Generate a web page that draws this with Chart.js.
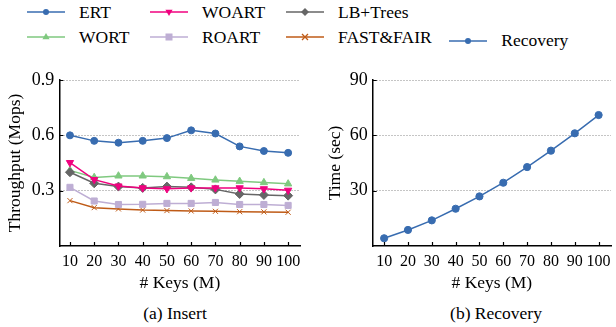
<!DOCTYPE html>
<html lang="en">
<head>
<meta charset="utf-8">
<title>Insert / Recovery</title>
<script src="https://cdn.jsdelivr.net/npm/chart.js@4.4.1/dist/chart.umd.min.js"></script>
<style>
  body { margin: 0; background: #fff; font-family: "Liberation Serif", "Times New Roman", serif; }
  #lienzo { position: relative; width: 616px; height: 327px; overflow: hidden; }
  #lienzo canvas { position: absolute; top: 0; }
  .item { position: absolute; height: 20px; display: flex; align-items: center; font-size: 17.5px; color: #000; white-space: nowrap; }
  .item svg { margin-right: 14px; }
  .pie { position: absolute; top: 303px; height: 20px; line-height: 20px; font-size: 17.5px; transform: translateX(-50%); white-space: nowrap; }
</style>
</head>
<body>
<div id="lienzo">
  <div id="leyenda"></div>
  <canvas id="insertChart" width="306" height="300" style="left:0"></canvas>
  <canvas id="recoveryChart" width="310" height="300" style="left:306px"></canvas>
  <div class="pie" style="left:175px">(a) Insert</div>
  <div class="pie" style="left:496px">(b) Recovery</div>
</div>
<script>
// 📊 Datos
const claves = [10, 20, 30, 40, 50, 60, 70, 80, 90, 100];

const ert = [0.60, 0.57, 0.56, 0.57, 0.585, 0.627, 0.61, 0.54, 0.515, 0.505];
const woart = [0.452, 0.36, 0.325, 0.315, 0.31, 0.315, 0.315, 0.315, 0.31, 0.302];
const lbTrees = [0.40, 0.34, 0.322, 0.315, 0.322, 0.318, 0.307, 0.282, 0.277, 0.273];
const wort = [0.41, 0.372, 0.38, 0.38, 0.376, 0.367, 0.358, 0.351, 0.344, 0.337];
const roart = [0.318, 0.244, 0.225, 0.226, 0.231, 0.231, 0.236, 0.225, 0.225, 0.22];
const fastFair = [0.246, 0.208, 0.201, 0.195, 0.192, 0.19, 0.188, 0.186, 0.185, 0.183];

const recovery = [4.2, 8.7, 13.9, 20.2, 26.9, 34.3, 42.8, 51.7, 61.1, 71.0];

const ticksThroughput = [0.3, 0.6, 0.9];
const ticksTiempo = [30, 60, 90];

const FUENTE = "'Liberation Serif', 'Times New Roman', serif";
Chart.defaults.font.family = FUENTE;
Chart.defaults.color = "#000";

// 🔹 Series del gráfico de inserción (el primero se pinta encima)
const series = [
  { label: "ERT", data: ert, color: "#386cb0", estilo: "circle", radio: 3.5, rot: 0 },
  { label: "WOART", data: woart, color: "#f0027f", estilo: "triangle", radio: 4.2, rot: 180 },
  { label: "LB+Trees", data: lbTrees, color: "#666666", estilo: "rectRot", radio: 4.5, rot: 0 },
  { label: "WORT", data: wort, color: "#7fc97f", estilo: "triangle", radio: 4.2, rot: 0 },
  { label: "ROART", data: roart, color: "#beaed4", estilo: "rect", radio: 4.3, rot: 0 },
  { label: "FAST&FAIR", data: fastFair, color: "#bf5b17", estilo: "crossRot", radio: 3.6, rot: 0 },
];

// ✅ Marcas de los ejes hacia dentro
const marcasInternas = {
  id: "marcasInternas",
  afterDraw(chart) {
    const { ctx, scales } = chart;
    const x = scales.x, y = scales.y;
    ctx.save();
    ctx.strokeStyle = "#000";
    ctx.lineWidth = 1.2;
    ctx.beginPath();
    x.ticks.forEach((t) => {
      const px = Math.round(x.getPixelForValue(t.value)) + 0.5;
      ctx.moveTo(px, y.bottom);
      ctx.lineTo(px, y.bottom - 4);
    });
    y.ticks.forEach((t) => {
      const py = Math.round(y.getPixelForValue(t.value)) + 0.5;
      ctx.moveTo(x.left, py);
      ctx.lineTo(x.left + 4, py);
    });
    ctx.stroke();
    ctx.restore();
  },
};

function opcionesBase(cfg) {
  return {
    responsive: false,
    animation: false,
    events: [],
    layout: { padding: cfg.padding },
    plugins: { legend: { display: false }, tooltip: { enabled: false } },
    scales: {
      x: {
        type: "linear",
        min: cfg.xMin,
        max: cfg.xMax,
        afterBuildTicks: (scale) => {
          scale.ticks = claves.map((v) => ({ value: v }));
        },
        afterFit: (scale) => {
          scale.height = 50;
          scale.paddingLeft = 0;
          scale.paddingRight = 0;
        },
        grid: { display: false, drawTicks: false },
        border: { display: true, color: "#000", width: 1.5 },
        ticks: { padding: 6, font: { family: FUENTE, size: 16 }, maxRotation: 0, autoSkip: false },
        title: { display: true, text: "# Keys (M)", font: { family: FUENTE, size: 17.5 }, padding: { top: 0, bottom: 2 } },
      },
      y: {
        min: 0,
        max: cfg.yMax,
        afterBuildTicks: (scale) => {
          scale.ticks = cfg.yTicks.map((v) => ({ value: v }));
        },
        afterFit: (scale) => {
          scale.width = cfg.yWidth;
          scale.paddingTop = 0;
          scale.paddingBottom = 0;
        },
        grid: { color: "#8a8a8a", lineWidth: 1, drawTicks: false },
        border: { display: true, color: "#000", width: 1.5, dash: [1, 2] },
        ticks: { padding: 5, font: { family: FUENTE, size: 18 }, callback: cfg.formato },
        title: { display: true, text: cfg.titulo, font: { family: FUENTE, size: 17.5 }, padding: { top: 0, bottom: 0 } },
      },
    },
  };
}

document.addEventListener("DOMContentLoaded", function () {
  // 🔽 Gráfico (a) Insert
  new Chart(document.getElementById("insertChart"), {
    type: "line",
    data: {
      labels: claves,
      datasets: series.map((s) => ({
        label: s.label,
        data: claves.map((k, i) => ({ x: k, y: s.data[i] })),
        borderColor: s.color,
        backgroundColor: s.color,
        borderWidth: 1.5,
        pointStyle: s.estilo,
        pointRadius: s.radio,
        pointRotation: s.rot,
        pointBorderWidth: 1,
        tension: 0,
      })),
    },
    options: opcionesBase({
      padding: { left: 5, top: 80, right: 4.3, bottom: 4 },
      xMin: 5.6, xMax: 105.1,
      yMax: 0.9, yTicks: ticksThroughput, yWidth: 54.3,
      titulo: "Throughput (Mops)",
      formato: (v) => v.toFixed(1),
    }),
    plugins: [marcasInternas],
  });

  // 🔽 Gráfico (b) Recovery
  new Chart(document.getElementById("recoveryChart"), {
    type: "line",
    data: {
      labels: claves,
      datasets: [
        {
          label: "Recovery",
          data: claves.map((k, i) => ({ x: k, y: recovery[i] })),
          borderColor: "#386cb0",
          backgroundColor: "#386cb0",
          borderWidth: 1.5,
          pointStyle: "circle",
          pointRadius: 3.6,
          pointBorderWidth: 1,
          tension: 0,
        },
      ],
    },
    options: opcionesBase({
      padding: { left: 18.5, top: 80, right: 0, bottom: 4 },
      xMin: 5.2, xMax: 105.2,
      yMax: 90, yTicks: ticksTiempo, yWidth: 48.2,
      titulo: "Time (sec)",
      formato: (v) => String(v),
    }),
    plugins: [marcasInternas],
  });

  // 🏷️ Leyenda en HTML (posiciones como en la figura)
  const posiciones = {
    "ERT": [27, 12.3], "WOART": [150, 12.3], "LB+Trees": [286, 12.3],
    "WORT": [27, 37.3], "ROART": [150, 37.3], "FAST&FAIR": [286, 37.3],
  };
  const leyenda = document.getElementById("leyenda");
  const items = series.map((s) => ({ label: s.label, color: s.color, estilo: s.rot ? "triangleDown" : s.estilo }));
  items.push({ label: "Recovery", color: "#386cb0", estilo: "circle" });
  posiciones["Recovery"] = [449.3, 40.5];

  items.forEach((it) => {
    const [left, cy] = posiciones[it.label];
    const div = document.createElement("div");
    div.className = "item";
    div.style.left = left + "px";
    div.style.top = cy - 10 + "px";
    div.innerHTML = `<svg width="38" height="12" viewBox="0 0 38 12">
      <line x1="0" y1="6" x2="38" y2="6" stroke="${it.color}" stroke-width="1.5"/>
      ${marcador(it.estilo, it.color)}</svg><span>${it.label.replace("&", "&amp;")}</span>`;
    leyenda.appendChild(div);
  });
});

function marcador(estilo, c) {
  switch (estilo) {
    case "circle":
      return `<circle cx="19" cy="6" r="3" fill="${c}"/>`;
    case "triangle":
      return `<polygon points="19,2 22.6,8.3 15.4,8.3" fill="${c}"/>`;
    case "triangleDown":
      return `<polygon points="19,10 22.6,3.7 15.4,3.7" fill="${c}"/>`;
    case "rectRot":
      return `<polygon points="19,2 23,6 19,10 15,6" fill="${c}"/>`;
    case "rect":
      return `<rect x="15.5" y="2.5" width="7" height="7" fill="${c}"/>`;
    case "crossRot":
      return `<path d="M16,3 L22,9 M22,3 L16,9" stroke="${c}" stroke-width="1.3"/>`;
  }
  return "";
}
</script>
</body>
</html>
